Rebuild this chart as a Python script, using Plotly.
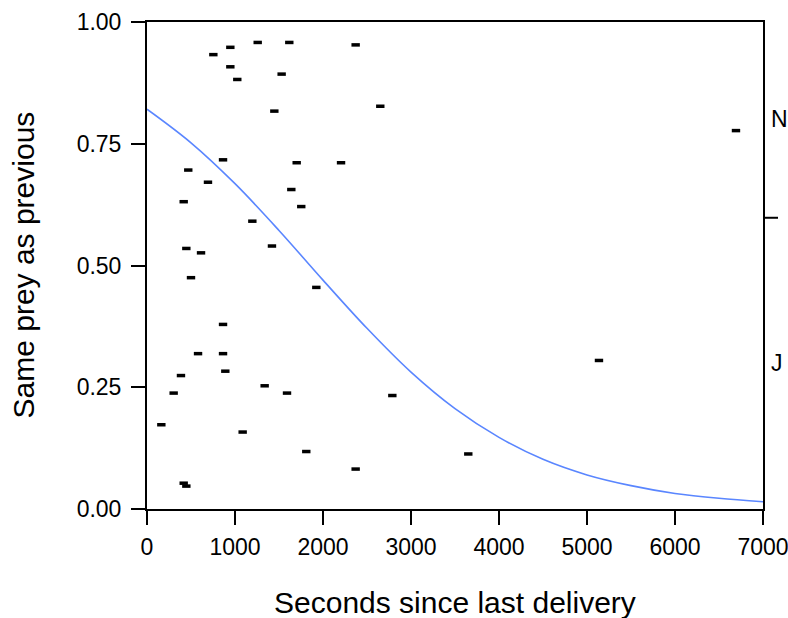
import plotly.graph_objects as go

# Observed points (seconds since last delivery, same prey as previous - jittered)
seconds = [754, 947, 1258, 1617, 2371, 947, 1026, 1530, 1447, 2651,
           864, 469, 1701, 2205, 693, 1640, 417, 1753, 1197, 447,
           614, 1420, 500, 1924, 864, 580, 864, 890, 386, 303,
           1337, 1591, 2788, 163, 1087, 1810, 2371, 417, 447, 3651,
           5136, 6693]
same_prey = [0.933, 0.948, 0.958, 0.958, 0.953, 0.908, 0.882, 0.893, 0.817, 0.827,
             0.717, 0.696, 0.711, 0.711, 0.671, 0.656, 0.631, 0.621, 0.591, 0.535,
             0.526, 0.540, 0.475, 0.455, 0.379, 0.319, 0.319, 0.283, 0.274, 0.238,
             0.253, 0.238, 0.233, 0.173, 0.158, 0.118, 0.082, 0.053, 0.047, 0.113,
             0.305, 0.777]

# Fitted curve
curve_x = [0, 500, 1000, 1500, 2000, 2500, 3000, 3500, 4000, 4500, 5000, 5500, 6000, 6500, 7000]
curve_y = [0.821, 0.752, 0.668, 0.572, 0.470, 0.371, 0.281, 0.206, 0.147, 0.102,
           0.070, 0.048, 0.032, 0.022, 0.015]

x_ticks = [0, 1000, 2000, 3000, 4000, 5000, 6000, 7000]
y_ticks = [0.0, 0.25, 0.5, 0.75, 1.0]
y_tick_labels = ["0.00", "0.25", "0.50", "0.75", "1.00"]

right_split = 0.598
right_labels = ["N", "J"]
right_label_pos = [0.80, 0.30]

FONT = "Liberation Sans, Arial, sans-serif"
TICK_SIZE = 23
TITLE_SIZE = 30

fig = go.Figure()
fig.add_trace(go.Scatter(
    x=curve_x, y=curve_y, mode="lines",
    line=dict(color="#5a86ff", width=1.6, shape="spline"),
    hoverinfo="skip", showlegend=False))
fig.add_trace(go.Scatter(
    x=seconds, y=same_prey, mode="markers",
    marker=dict(symbol="line-ew", size=6, color="black",
                line=dict(color="black", width=3.5)),
    showlegend=False))

axis_common = dict(showgrid=False, zeroline=False, showline=True, mirror=True,
                   linecolor="black", linewidth=2, ticks="outside", ticklen=14,
                   tickwidth=2, tickcolor="black", automargin=False,
                   ticklabeloverflow="allow",
                   tickfont=dict(family=FONT, size=TICK_SIZE, color="black"))

fig.update_layout(
    width=788, height=618,
    margin=dict(l=147, r=25, t=22, b=109, autoexpand=False),
    paper_bgcolor="white", plot_bgcolor="white",
    xaxis=dict(range=[0, 7000], tickvals=x_ticks, ticktext=[str(v) for v in x_ticks],
               ticklabelstandoff=2, **axis_common),
    yaxis=dict(range=[0, 1], tickvals=y_ticks, ticktext=y_tick_labels,
               ticklabelstandoff=5, **axis_common),
    font=dict(family=FONT, color="black"),
)

# right side split tick
fig.add_shape(type="line", xref="paper", yref="y", x0=1, x1=1 + 15 / 616,
              y0=right_split, y1=right_split, line=dict(color="black", width=2))
for lab, pos in zip(right_labels, right_label_pos):
    fig.add_annotation(text=lab, xref="paper", yref="y", x=1, y=pos,
                       xanchor="left", yanchor="middle", xshift=6, showarrow=False,
                       font=dict(family=FONT, size=TICK_SIZE, color="black"))

fig.add_annotation(text="Seconds since last delivery", xref="paper", yref="paper",
                   x=0.5, y=0, yshift=-93, xanchor="center", yanchor="middle",
                   showarrow=False, font=dict(family=FONT, size=TITLE_SIZE, color="black"))
fig.add_annotation(text="Same prey as previous", xref="paper", yref="paper",
                   x=0, y=0.5, xshift=-124, xanchor="center", yanchor="middle",
                   textangle=-90, showarrow=False,
                   font=dict(family=FONT, size=TITLE_SIZE, color="black"))

fig.write_html(
    "out.html",
    config={"displayModeBar": False},
    post_script="document.body.style.margin='0';document.body.style.overflow='hidden';",
)
